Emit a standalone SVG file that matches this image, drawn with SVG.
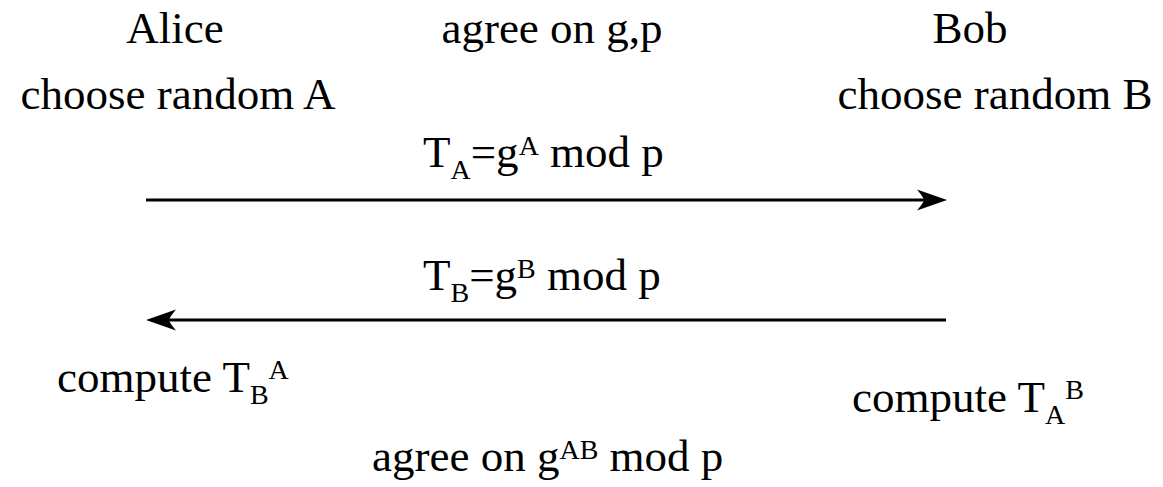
<svg xmlns="http://www.w3.org/2000/svg" width="1163" height="487" viewBox="0 0 1163 487">
<defs>
<style>
text{font-family:"Liberation Serif","Times New Roman",serif;font-size:45px;fill:#000}
.s{font-size:28px}
.ln{stroke:#000;stroke-width:3;fill:none}
</style>
<marker id="ah" viewBox="0 0 30 22" refX="8" refY="11" markerWidth="30" markerHeight="22" markerUnits="userSpaceOnUse" orient="auto-start-reverse">
<path d="M0,0.5 L30,11 L0,21.5 Q7,13 7,11 Q7,9 0,0.5 Z" fill="#000"/>
</marker>
</defs>
<rect width="1163" height="487" fill="#fff"/>
<g id="alice">
<text x="175" y="43" text-anchor="middle">Alice</text>
<text x="178" y="109" text-anchor="middle">choose random A</text>
</g>
<g id="agree-top">
<text x="552" y="43" text-anchor="middle">agree on g,p</text>
</g>
<g id="bob">
<text x="970" y="43" text-anchor="middle">Bob</text>
<text x="995" y="109" text-anchor="middle">choose random B</text>
</g>
<g id="msg1">
<text x="423" y="167">T<tspan class="s" dy="12">A</tspan><tspan dy="-12">=g</tspan><tspan class="s" dy="-12">A</tspan><tspan dy="12"> mod p</tspan></text>
</g>
<g id="msg2">
<text x="423" y="290">T<tspan class="s" dy="12">B</tspan><tspan dy="-12">=g</tspan><tspan class="s" dy="-12">B</tspan><tspan dy="12"> mod p</tspan></text>
</g>
<g id="compute-alice">
<text x="57" y="392">compute T<tspan class="s" dy="12">B</tspan><tspan class="s" dy="-25">A</tspan></text>
</g>
<g id="compute-bob">
<text x="852" y="412">compute T<tspan class="s" dy="12">A</tspan><tspan class="s" dy="-25">B</tspan></text>
</g>
<g id="agree-bottom">
<text x="372" y="471">agree on g<tspan class="s" dy="-12">AB</tspan><tspan dy="12"> mod p</tspan></text>
</g>
<g id="connectors">
<line class="ln" x1="146" y1="200" x2="925" y2="200" marker-end="url(#ah)"/>
<line class="ln" x1="946" y1="320" x2="168" y2="320" marker-end="url(#ah)"/>
</g>
</svg>
